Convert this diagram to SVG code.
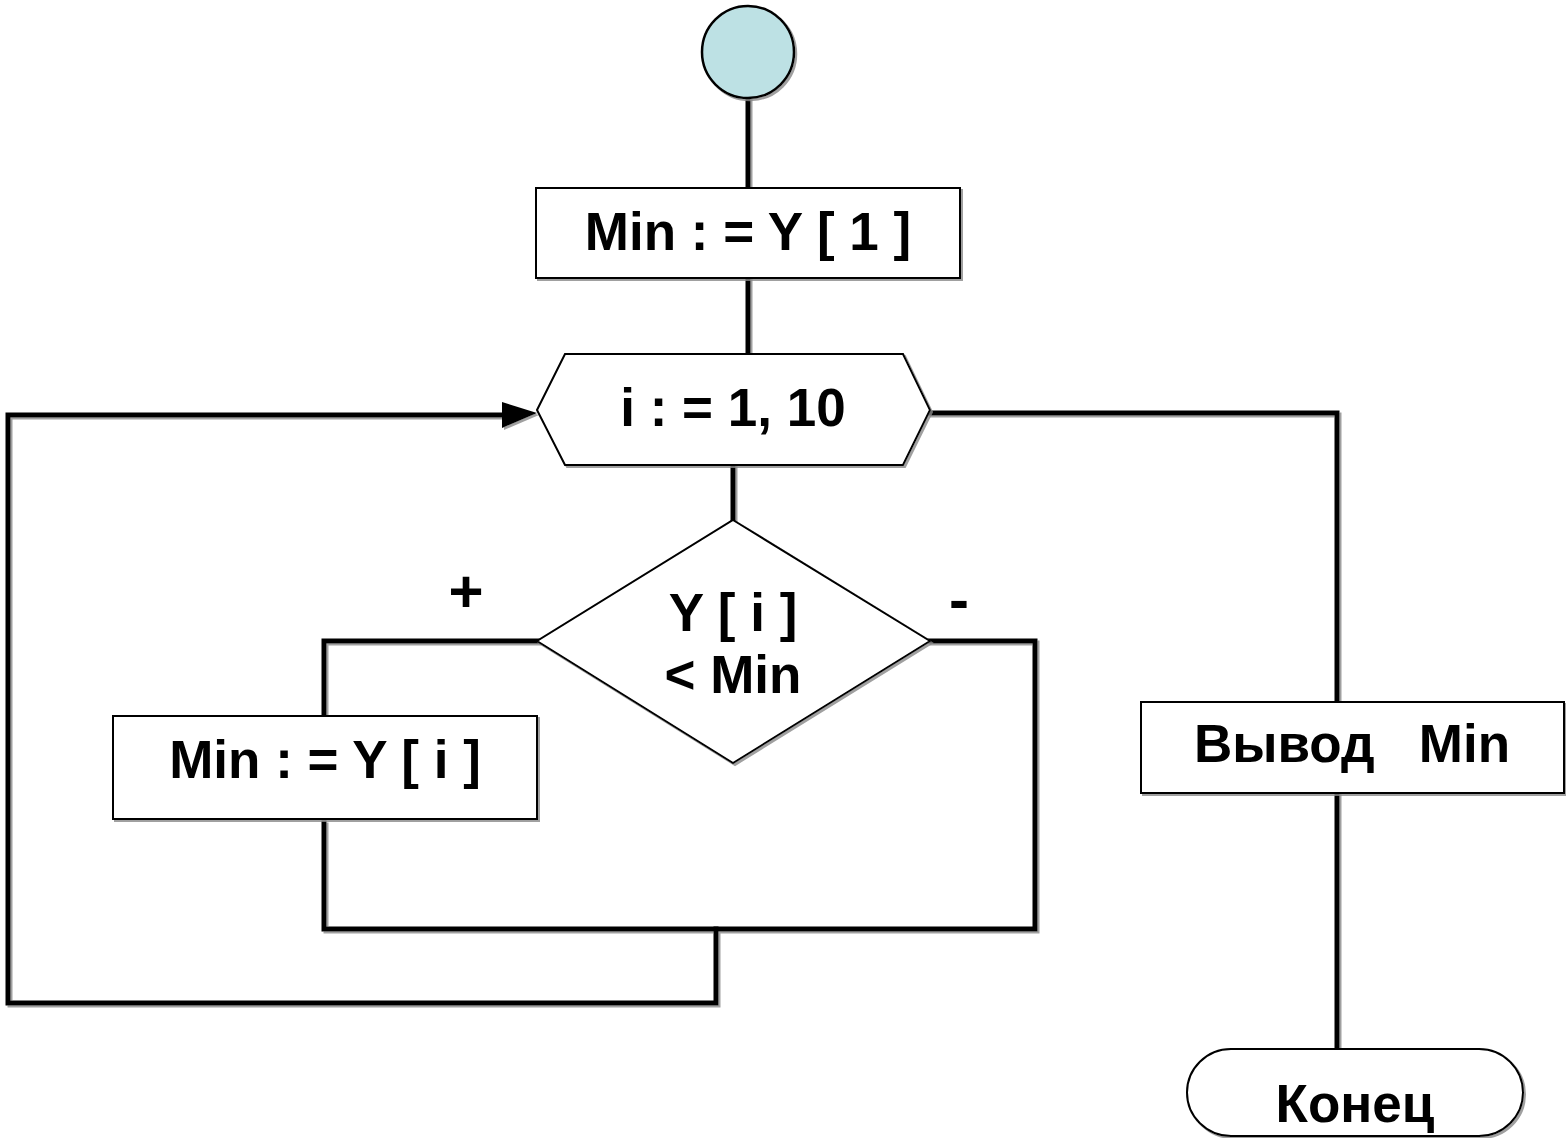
<svg xmlns="http://www.w3.org/2000/svg" width="1566" height="1138" viewBox="0 0 1566 1138">
<style>
.n{fill:#fff;stroke:#000;stroke-width:2}
.c{fill:none;stroke:#000;stroke-width:5;stroke-linecap:square}
.t{font-family:"Liberation Sans",Arial,sans-serif;font-weight:bold;font-size:53px;fill:#000;text-anchor:middle}
.l{font-size:60px}
</style>
<defs>
<filter id="sh" x="-5%" y="-5%" width="110%" height="110%">
<feDropShadow dx="2" dy="2" stdDeviation="0" flood-color="#888" flood-opacity="0.8"/>
</filter>
</defs>
<g id="connectors" filter="url(#sh)">
<line class="c" x1="748" y1="98" x2="748" y2="188"/>
<line class="c" x1="748" y1="278" x2="748" y2="354"/>
<line class="c" x1="733" y1="460" x2="733" y2="520"/>
<path class="c" d="M324,716 L324,641 L537,641"/>
<path class="c" d="M930,641 L1035,641 L1035,929 L324,929 L324,823"/>
<path class="c" d="M716,929 L716,1003 L8,1003 L8,415 L502,415"/>
<path d="M502,402 L537,413 L502,428 Z" fill="#000"/>
<path class="c" d="M930,413 L1337,413 L1337,702"/>
<line class="c" x1="1337" y1="793" x2="1337" y2="1049"/>
</g>
<g id="start" filter="url(#sh)">
<circle cx="748" cy="52" r="46" fill="#bde1e4" stroke="#000" stroke-width="2.5"/>
</g>
<g id="init" filter="url(#sh)">
<rect class="n" x="536" y="188" width="424" height="90"/>
<text class="t" x="748" y="250">Min : = Y [ 1 ]</text>
</g>
<g id="loop" filter="url(#sh)">
<polygon class="n" points="537,410 565,354 903,354 930,410 903,465 565,465"/>
<text class="t" x="733" y="426">i : = 1, 10</text>
</g>
<g id="cond" filter="url(#sh)">
<polygon class="n" points="733,520 930,641 733,763 537,641"/>
<text class="t" x="733" y="631">Y [ i ]</text>
<text class="t" x="733" y="693">&lt; Min</text>
</g>
<g id="labels">
<text class="t l" x="466" y="612">+</text>
<text class="t l" x="959" y="620">-</text>
</g>
<g id="assign" filter="url(#sh)">
<rect class="n" x="113" y="716" width="424" height="103"/>
<text class="t" x="325" y="778">Min : = Y [ i ]</text>
</g>
<g id="output" filter="url(#sh)">
<rect class="n" x="1141" y="702" width="423" height="91"/>
<text class="t" x="1352" y="762" xml:space="preserve">Вывод   Min</text>
</g>
<g id="end" filter="url(#sh)">
<rect class="n" x="1187" y="1049" width="336" height="87" rx="44" ry="44"/>
<text class="t" x="1355" y="1122">Конец</text>
</g>
</svg>
